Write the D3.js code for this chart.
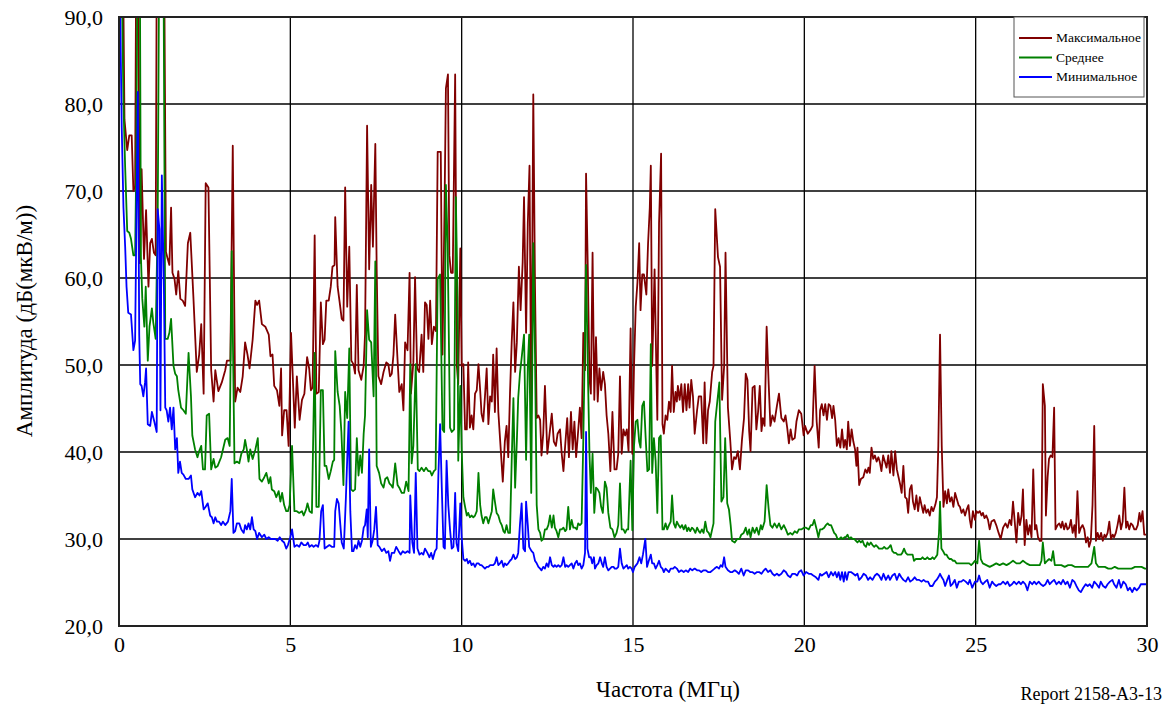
<!DOCTYPE html>
<html><head><meta charset="utf-8">
<script src="https://cdn.jsdelivr.net/npm/d3@7"></script>
<style>
body{margin:0;background:#fff;}
svg{display:block;}
svg text{font-family:"Liberation Serif","Times New Roman",serif;}
</style></head>
<body><svg id="c" width="1169" height="704"></svg>
<script>
// ---- data ----
const xTicks = [0,5,10,15,20,25,30];
const yTicks = [20,30,40,50,60,70,80,90];
const seriesNames = ["Максимальное","Среднее","Минимальное"];
const seriesColors = ["#800000","#008000","#0000ff"];
const xTitle = "Частота (МГц)";
const yTitle = "Амплитуда (дБ(мкВ/м))";
const reportLabel = "Report 2158-A3-13";

const maxSeries = [[0.00,95],[0.12,95],[0.16,78.2],[0.24,74.7],[0.30,76.4],[0.37,76.4],[0.42,70],[0.47,70.5],[0.50,95],[0.56,95],[0.61,61.7],[0.66,72.5],[0.73,62.2],[0.79,67.8],[0.86,59],[0.91,64],[0.96,64.5],[1.02,62.9],[1.07,62.6],[1.10,95],[1.32,95],[1.37,63],[1.42,62.2],[1.47,61.5],[1.52,68.1],[1.56,60.6],[1.62,59.9],[1.67,58.1],[1.73,60.8],[1.79,57.6],[1.86,57.4],[1.93,56.8],[2.01,64],[2.08,65.2],[2.17,57.9],[2.27,49.2],[2.34,51.2],[2.40,54.7],[2.47,46.7],[2.53,70.9],[2.61,70.4],[2.69,49.4],[2.76,45.8],[2.81,49.4],[2.90,47],[3.00,48],[3.10,49.4],[3.15,50.5],[3.25,50.5],[3.32,75.2],[3.39,45.8],[3.46,47.4],[3.54,46.9],[3.61,48.7],[3.68,52.6],[3.75,51.2],[3.81,49.6],[3.90,52.9],[3.98,57.4],[4.03,56.9],[4.09,57.4],[4.17,54.7],[4.27,54.4],[4.37,53.5],[4.42,51],[4.48,51.2],[4.53,47.6],[4.61,47.1],[4.68,45.3],[4.73,49.6],[4.76,41.9],[4.82,44.8],[4.89,44.8],[4.95,40.7],[5.02,53.7],
[5.13,42.8],[5.19,48.7],[5.27,43.7],[5.34,46],[5.41,46.7],[5.49,50.9],[5.55,49.6],[5.60,47.1],[5.65,47.4],[5.71,64.9],[5.76,46.7],[5.83,46.9],[5.89,57.2],[5.95,52.4],[6.00,52.9],[6.05,57.4],[6.12,57.4],[6.18,59],[6.23,61.3],[6.29,61.5],[6.31,67],[6.38,59],[6.44,57.2],[6.50,55.3],[6.55,55.1],[6.60,70.4],[6.66,56.7],[6.72,63.6],[6.78,50.5],[6.84,50.1],[6.89,49],[6.94,59.2],[6.99,49.4],[7.07,48.3],[7.14,49.9],[7.18,53.5],[7.24,77.5],[7.30,61],[7.36,70.7],[7.41,63.6],[7.48,75.4],[7.52,61],[7.57,48.7],[7.65,47.8],[7.72,49.2],[7.80,50.3],[7.86,50.1],[7.91,48.7],[7.96,49],[8.01,51.2],[8.06,55.8],[8.13,50.5],[8.18,46.9],[8.25,47.8],[8.30,44.8],[8.35,52.6],[8.42,51.7],[8.48,60.6],[8.52,46.7],[8.59,50.3],[8.64,60.1],[8.70,49.6],[8.76,49.2],[8.83,53.5],[8.88,49.2],[8.93,57.2],[8.98,56.9],[9.03,53],[9.08,57.4],[9.13,52.4],[9.19,54.4],[9.25,53.9],[9.30,74.5],[9.39,74.5],[9.44,51.2],[9.50,68.1],[9.54,81.8],[9.60,83.4],[9.64,62.6],[9.69,60.6],[9.74,60.6],[9.81,83.4],[9.86,49.9],[9.90,47.8],[9.96,63.4],[10.00,49.9],
[10.05,50.1],[10.10,42.6],[10.15,42.6],[10.19,50.3],[10.24,42.8],[10.29,44.2],[10.34,42.6],[10.39,46.7],[10.44,47.1],[10.49,50.1],[10.54,47.1],[10.58,44.4],[10.63,43.5],[10.68,46.4],[10.73,49.6],[10.78,43.2],[10.83,46.4],[10.88,45.8],[10.92,51.2],[10.97,44.6],[11.02,51.9],[11.07,44.6],[11.14,40.3],[11.20,36.6],[11.26,41.2],[11.31,43],[11.36,39.4],[11.41,46.7],[11.46,52.6],[11.51,57.2],[11.56,49.2],[11.61,52.6],[11.67,61.3],[11.72,56.3],[11.78,61.8],[11.82,69.3],[11.88,53.7],[11.93,66.3],[11.98,72.9],[12.03,44.4],[12.09,81.1],[12.14,59],[12.19,43.9],[12.24,44.2],[12.29,43.7],[12.33,39.6],[12.38,42.1],[12.43,47.6],[12.50,39.8],[12.56,41.9],[12.63,44.4],[12.69,41.2],[12.75,40.7],[12.80,42.1],[12.87,42.6],[12.92,39.8],[12.97,37.8],[13.02,40.7],[13.08,43.9],[13.13,39.4],[13.19,44.6],[13.24,40.3],[13.29,43.5],[13.34,39.4],[13.39,41.9],[13.45,45.1],[13.50,41.6],[13.55,53.7],[13.60,49.4],[13.63,72],[13.68,61.3],[13.73,48.5],[13.77,46.7],[13.82,62.9],[13.87,46],[13.92,53.2],[13.97,45.8],[14.02,49.6],[14.07,47.1],[14.13,49.2],[14.18,47.8],[14.23,44.2],[14.28,42.1],[14.34,37.8],[14.40,44.6],[14.46,38],[14.52,38],[14.57,39.8],[14.62,48.7],[14.67,39.8],[14.72,42.6],[14.77,41.9],[14.82,42.6],[14.87,40.1],[14.93,54.2],[14.98,39.8],
[15.03,49.9],[15.08,56.7],[15.13,59.5],[15.18,64],[15.22,56.3],[15.27,60.4],[15.32,60.4],[15.39,58.1],[15.44,64],[15.49,68.1],[15.52,72.9],[15.56,49.9],[15.63,61],[15.68,49.9],[15.71,43.7],[15.76,66.3],[15.82,74.3],[15.86,43.2],[15.90,42.1],[15.95,44.2],[16.00,43.7],[16.05,45.8],[16.10,44.6],[16.14,49.9],[16.19,44.6],[16.24,46.9],[16.28,45.8],[16.31,47.6],[16.36,46],[16.41,47.8],[16.46,44.6],[16.51,47.8],[16.56,44.8],[16.61,47.8],[16.65,45.1],[16.70,48.3],[16.75,46.4],[16.80,42.1],[16.87,44.8],[16.92,46.4],[16.99,46.4],[17.05,41],[17.09,48],[17.14,41],[17.19,44.8],[17.24,45.8],[17.31,49.2],[17.35,49.9],[17.40,67.9],[17.48,62.4],[17.54,61.3],[17.60,46],[17.66,49.9],[17.70,62.9],[17.77,45.1],[17.84,41.2],[17.89,38],[17.95,39.4],[18.00,39.2],[18.06,40.1],[18.12,38],[18.18,41.4],[18.24,43.9],[18.29,49],[18.34,48.3],[18.39,42.4],[18.43,40.1],[18.49,47.4],[18.55,47.6],[18.60,42.6],[18.65,44.6],[18.70,47.6],[18.75,42.4],[18.79,43.9],[18.84,43],[18.90,54.4],[18.96,47.8],[19.01,43],[19.07,44.2],[19.13,43.5],[19.20,45.3],[19.26,46.7],[19.33,43.9],[19.40,43.5],[19.45,44.2],[19.50,42.8],[19.55,41],[19.60,42.6],[19.65,41.4],[19.72,41.6],[19.77,43.5],[19.84,44.8],[19.91,44.4],[19.98,41.9],
[20.02,43],[20.10,42.1],[20.19,42.6],[20.24,43],[20.30,49.9],[20.36,43.5],[20.42,40.5],[20.46,44.8],[20.51,45.5],[20.56,44.2],[20.61,45.5],[20.66,43.7],[20.71,45.5],[20.76,45.3],[20.81,43.9],[20.85,45.3],[20.90,43.7],[20.95,40.7],[21.00,41.6],[21.05,40.5],[21.10,42.6],[21.15,40.5],[21.19,41.4],[21.24,40.3],[21.28,43.5],[21.33,40.7],[21.38,42.6],[21.43,41.2],[21.48,40.3],[21.52,38.4],[21.55,40.5],[21.60,36.2],[21.65,36.9],[21.72,37.1],[21.78,38],[21.83,37.6],[21.87,38.2],[21.91,37.6],[21.96,40.5],[22.01,39.2],[22.06,39.6],[22.11,38.9],[22.16,39.4],[22.20,38.9],[22.25,37.8],[22.30,39.6],[22.35,38.9],[22.40,38.2],[22.45,39.6],[22.50,37.6],[22.54,40.1],[22.60,37.3],[22.65,40.1],[22.70,38],[22.75,37.1],[22.80,36.2],[22.84,35.3],[22.89,38.4],[22.94,34.8],[22.99,34.6],[23.03,33],[23.08,35.7],[23.13,36.2],[23.17,34.3],[23.22,33.4],[23.27,35],[23.32,33.2],[23.37,34.8],[23.42,33.9],[23.47,33],[23.51,33.9],[23.56,33],[23.61,33.4],[23.66,32.7],[23.71,33.7],[23.76,33.2],[23.82,33.9],[23.87,34.8],[23.91,40.7],[23.96,53.5],[24.01,40.7],[24.06,33.7],[24.11,35.5],[24.16,34.1],[24.20,35.7],[24.25,34.3],[24.30,34.8],[24.35,33.7],[24.40,35.3],[24.45,34.6],[24.50,33.9],[24.54,33.7],[24.59,33],[24.64,33.4],[24.69,32.7],[24.74,33.4],[24.79,33.9],[24.83,32.2],[24.87,31.3],[24.92,33.2],[24.98,32.2],
[25.02,33.2],[25.07,33],[25.12,33.2],[25.17,32.7],[25.21,33],[25.26,32.4],[25.31,32.7],[25.36,32.2],[25.41,31.1],[25.46,32],[25.54,32.2],[25.60,31.6],[25.67,30.7],[25.73,30],[25.80,31.3],[25.87,31.8],[25.93,31.3],[25.99,32.2],[26.04,31.6],[26.09,34.3],[26.14,32],[26.19,29.6],[26.24,33],[26.29,31.6],[26.34,32.7],[26.38,35.7],[26.43,29.3],[26.48,32.2],[26.53,30.5],[26.58,31.6],[26.63,30.2],[26.68,38],[26.73,31.1],[26.77,31.6],[26.82,30.2],[26.87,29.8],[26.92,29.8],[26.96,47.8],[27.02,45.3],[27.05,32.7],[27.10,37.1],[27.14,39.2],[27.19,39.6],[27.24,39.4],[27.29,45.1],[27.33,31.1],[27.39,31.6],[27.44,31.8],[27.49,31.3],[27.53,32],[27.58,31.1],[27.63,31.8],[27.68,31.1],[27.73,31.3],[27.78,32.2],[27.83,30.7],[27.88,31.6],[27.92,30.2],[27.97,35.5],[28.02,30.7],[28.07,31.3],[28.12,31.6],[28.17,31.1],[28.22,29.6],[28.27,30.2],[28.31,29.1],[28.36,29.8],[28.41,33.9],[28.46,43],[28.51,29.8],[28.56,30.7],[28.61,30],[28.66,30.7],[28.71,29.8],[28.76,30.5],[28.80,30.2],[28.85,30.7],[28.90,32],[28.95,30],[29.00,30.5],[29.04,30.2],[29.09,30.7],[29.14,31.6],[29.19,32.7],[29.24,31.1],[29.29,32],[29.34,35.9],[29.39,31.3],[29.43,32],[29.48,31.1],[29.53,31.8],[29.58,31.6],[29.63,31.1],[29.68,31.1],[29.73,31.6],[29.78,33],[29.82,32],[29.87,33.2],[29.92,30.5],[30.00,30.5]];

const avgSeries = [[0.03,95],[0.08,95],[0.13,80],[0.18,72.7],[0.24,65.4],[0.30,65.2],[0.35,64.5],[0.42,62.6],[0.47,62.6],[0.50,71.8],[0.54,95],[0.61,95],[0.64,62.4],[0.68,57.6],[0.74,54.4],[0.78,59],[0.84,50.5],[0.89,54.4],[0.96,56.5],[1.00,54.9],[1.07,53],[1.13,67.2],[1.17,95],[1.30,95],[1.35,53],[1.42,53],[1.47,53.7],[1.52,55.3],[1.59,49.9],[1.64,49],[1.69,48.7],[1.73,47.1],[1.81,45.1],[1.88,44.8],[1.95,44.4],[2.03,51.4],[2.10,46.4],[2.14,41.9],[2.22,40.3],[2.29,39.4],[2.34,40.1],[2.40,40.7],[2.45,38],[2.51,38],[2.56,44.2],[2.63,44.4],[2.69,38],[2.76,39.2],[2.81,38.2],[2.88,38.4],[2.98,39.4],[3.10,41.4],[3.17,41.6],[3.23,40.7],[3.29,63.1],[3.37,38.7],[3.44,38.9],[3.51,38.7],[3.57,39.8],[3.64,40.3],[3.68,41.4],[3.73,40.3],[3.78,38.9],[3.83,40.3],[3.90,39.2],[3.98,40.3],[4.05,41.6],[4.10,36.9],[4.17,36.6],[4.24,37.1],[4.30,37.6],[4.37,36.4],[4.42,37.1],[4.46,35.7],[4.53,35.5],[4.59,34.8],[4.66,35.5],[4.71,34.3],[4.76,35.3],[4.82,33.9],[4.88,33.2],[4.93,33.2],[4.98,33.9],[5.05,40.7],[5.12,33.2],
[5.19,33.2],[5.26,33],[5.34,33.2],[5.39,32.7],[5.46,33.4],[5.50,34.1],[5.56,33.2],[5.63,33],[5.71,51.4],[5.76,33.7],[5.83,33.7],[5.89,47.1],[5.95,47.1],[6.00,38.4],[6.05,38.4],[6.12,36.9],[6.18,37.8],[6.24,38.9],[6.28,39.1],[6.31,51.6],[6.38,46.9],[6.44,45.3],[6.49,42.3],[6.55,36.2],[6.60,46.9],[6.66,43.9],[6.72,51.9],[6.77,35.7],[6.83,35.5],[6.89,35.7],[6.94,41.6],[6.99,37.3],[7.04,39.6],[7.09,37.6],[7.14,42.1],[7.18,44.2],[7.24,56.3],[7.30,52.9],[7.36,52.6],[7.43,46.4],[7.48,61.9],[7.52,38.4],[7.59,37.6],[7.65,36.4],[7.72,35.9],[7.77,36.9],[7.83,37.1],[7.89,36.4],[7.94,36.2],[7.99,35.9],[8.06,38.7],[8.13,36.2],[8.18,35.9],[8.25,35.3],[8.32,35.3],[8.38,36.6],[8.45,35.5],[8.50,50.1],[8.54,38.7],[8.59,40.7],[8.66,50.1],[8.72,38],[8.77,37.8],[8.83,38.2],[8.90,37.8],[8.96,38.2],[9.03,37.8],[9.08,37.8],[9.13,37.3],[9.19,37.8],[9.24,38],[9.30,59.9],[9.37,60.4],[9.44,42.6],[9.49,42.3],[9.54,70.7],[9.59,64],[9.66,42.8],[9.71,42.3],[9.78,42.6],[9.83,69.3],[9.88,57.6],[9.90,39],[9.96,47.6],[10.00,40.3],
[10.05,34.8],[10.10,33.7],[10.15,32.7],[10.19,33],[10.24,32.5],[10.29,32.7],[10.34,32.5],[10.39,32.7],[10.44,33.2],[10.49,37.6],[10.54,33.9],[10.58,32.7],[10.63,31.8],[10.68,32.5],[10.73,32.5],[10.78,31.8],[10.83,32.5],[10.88,33.2],[10.92,35.7],[10.97,34.3],[11.02,33],[11.07,32.7],[11.12,32],[11.17,31.6],[11.22,30.9],[11.26,30.7],[11.31,31.6],[11.36,30.7],[11.41,30.7],[11.46,39],[11.51,46.2],[11.56,35.9],[11.61,41.2],[11.65,46.2],[11.70,49],[11.75,50.8],[11.82,53.5],[11.88,39.1],[11.93,49.9],[11.97,53.5],[12.03,35.3],[12.09,64],[12.14,51.2],[12.19,33.9],[12.24,31.1],[12.29,30.7],[12.33,29.8],[12.38,30],[12.43,31.1],[12.48,31.1],[12.53,31.6],[12.58,32.7],[12.63,31.3],[12.68,32.7],[12.72,31.3],[12.77,30.9],[12.82,30.2],[12.87,31.1],[12.92,31.1],[12.97,31.3],[13.02,30.9],[13.06,31.1],[13.11,33.7],[13.16,31.1],[13.21,32.2],[13.26,31.3],[13.31,31.3],[13.36,31.1],[13.40,31.8],[13.45,31.6],[13.50,31.8],[13.55,41.4],[13.60,53.7],[13.63,61.5],[13.68,49.9],[13.73,39.8],[13.77,35.3],[13.82,39.8],[13.87,33],[13.92,35.9],[13.97,35.7],[14.02,35.3],[14.07,33.7],[14.12,33],[14.18,36.6],[14.23,35.9],[14.28,33],[14.34,31.3],[14.40,31.1],[14.46,30.2],[14.52,30.7],[14.57,31.6],[14.62,36.4],[14.67,31.1],[14.72,31.1],[14.77,30.7],[14.82,31.1],[14.86,31.1],[14.93,39],[14.98,31],
[15.03,40.7],[15.08,43.5],[15.13,43.7],[15.18,41.2],[15.22,40.5],[15.27,45.3],[15.32,45.8],[15.37,41.6],[15.42,37.8],[15.47,38],[15.52,52.4],[15.56,37.6],[15.61,41.6],[15.66,39],[15.71,33],[15.76,41.6],[15.81,41.9],[15.86,31.1],[15.90,31.1],[15.95,31.8],[16.00,31.1],[16.05,31.6],[16.10,32],[16.14,35],[16.19,31.8],[16.24,31.3],[16.28,32],[16.33,31.6],[16.38,31.3],[16.43,31.6],[16.48,31.1],[16.53,31.6],[16.58,30.9],[16.62,31.3],[16.67,30.9],[16.72,31.3],[16.77,31.1],[16.82,30.7],[16.87,31.3],[16.92,30.9],[16.96,30.7],[17.01,31.1],[17.06,30.7],[17.11,32],[17.16,30.9],[17.21,30.7],[17.26,30.2],[17.31,31.1],[17.35,31.8],[17.40,43.5],[17.46,45.8],[17.52,48],[17.58,34.3],[17.64,34.8],[17.69,41.6],[17.75,34.1],[17.80,33.4],[17.85,31.6],[17.89,29.8],[17.97,29.6],[18.04,30],[18.11,30],[18.16,30.5],[18.23,30.7],[18.29,31.3],[18.34,30.5],[18.39,31.1],[18.43,30.2],[18.49,31.3],[18.55,30.7],[18.61,31.3],[18.67,30.5],[18.73,31.6],[18.77,31.1],[18.84,32],[18.90,36.2],[18.96,33.4],[19.01,31.6],[19.07,31.3],[19.13,31.8],[19.20,31.3],[19.26,31.8],[19.33,31.1],[19.40,31.6],[19.46,31.1],[19.52,30.5],[19.59,30.7],[19.65,30.5],[19.72,30.9],[19.79,30.7],[19.84,31.1],[19.91,31.1],[19.99,31.3],
[20.05,31.3],[20.13,31.1],[20.19,31.6],[20.24,31.6],[20.29,32.2],[20.36,31.1],[20.41,30.2],[20.46,31.1],[20.51,31.1],[20.58,31.3],[20.63,31.6],[20.68,31.8],[20.73,31.6],[20.78,31.6],[20.83,31.1],[20.87,30.7],[20.92,30.5],[20.97,30],[21.02,30],[21.07,30.2],[21.12,30],[21.17,30.2],[21.21,30.2],[21.26,30.5],[21.31,30],[21.36,30.2],[21.41,30],[21.46,30],[21.50,29.8],[21.55,29.6],[21.60,29.8],[21.65,29.6],[21.70,29.8],[21.75,29.3],[21.80,29.1],[21.84,29.6],[21.89,29.3],[21.94,29.6],[21.99,29.3],[22.04,29.1],[22.09,29.3],[22.14,29.1],[22.18,28.9],[22.23,28.9],[22.28,28.9],[22.33,29.1],[22.38,28.9],[22.43,28.9],[22.48,29.1],[22.52,29.3],[22.57,28.6],[22.62,28.4],[22.67,28.4],[22.72,28.2],[22.77,28.2],[22.82,28.2],[22.86,28.4],[22.91,28.9],[22.96,28.4],[23.01,28.2],[23.06,28.2],[23.11,28.2],[23.16,28.2],[23.20,27.5],[23.25,27.7],[23.30,27.7],[23.35,27.7],[23.40,27.7],[23.45,27.9],[23.50,27.7],[23.54,27.7],[23.59,27.9],[23.64,27.7],[23.69,27.7],[23.74,27.9],[23.79,27.7],[23.83,27.9],[23.88,28.2],[23.93,30.7],[23.96,34.3],[24.00,28.9],[24.05,28.6],[24.10,28.2],[24.15,28.2],[24.19,27.9],[24.24,27.7],[24.29,27.7],[24.34,27.5],[24.39,27.5],[24.44,27.2],[24.51,27.2],[24.61,27.2],[24.71,27.2],[24.81,27.2],[24.87,27],[24.92,27.2],[24.98,27.5],
[25.05,27.2],[25.10,29.8],[25.15,27.7],[25.21,27.2],[25.31,27],[25.41,26.8],[25.51,27],[25.60,27.2],[25.70,27],[25.80,27.2],[25.90,27],[25.99,27.2],[26.09,27.5],[26.19,27.2],[26.29,27.2],[26.38,27.5],[26.48,27.2],[26.58,27],[26.68,27],[26.77,27],[26.87,27],[26.92,27.5],[26.96,29.6],[27.02,27.2],[27.09,27.5],[27.14,27.7],[27.21,27.5],[27.26,28.6],[27.31,27],[27.41,27],[27.50,27],[27.60,26.8],[27.70,27],[27.80,27],[27.89,26.8],[27.99,26.8],[28.09,26.8],[28.19,26.8],[28.28,26.8],[28.38,27.2],[28.46,29.1],[28.51,27.2],[28.58,26.8],[28.67,26.8],[28.77,26.8],[28.87,26.6],[28.97,26.6],[29.06,26.8],[29.16,26.6],[29.26,26.6],[29.36,26.6],[29.45,26.6],[29.55,26.6],[29.65,26.8],[29.75,26.8],[29.84,26.8],[29.94,26.6],[30.00,26.6]];

const minSeries = [[0.00,95],[0.02,95],[0.08,77.3],[0.13,68.1],[0.18,63.6],[0.22,59],[0.27,56],[0.35,55.8],[0.42,51.7],[0.47,52.8],[0.50,63.6],[0.55,81.4],[0.59,53.5],[0.62,47.8],[0.66,47.6],[0.71,46.4],[0.76,48],[0.79,49.6],[0.84,43.2],[0.91,43],[0.96,44.6],[1.03,43.5],[1.10,42.3],[1.13,67.9],[1.18,65.6],[1.21,44.8],[1.25,71.8],[1.31,59],[1.35,45.1],[1.39,44.8],[1.44,43.5],[1.49,45.1],[1.54,42.6],[1.59,45.1],[1.64,40.3],[1.69,41.6],[1.73,37.6],[1.78,38.9],[1.83,37.6],[1.88,37.4],[1.95,36.9],[2.03,36.9],[2.10,37.3],[2.14,35.7],[2.22,34.8],[2.29,35.3],[2.35,35],[2.40,35.5],[2.47,33.4],[2.53,33.7],[2.59,34.1],[2.66,32.7],[2.71,32.5],[2.76,31.8],[2.81,32.5],[2.86,32],[2.92,32],[2.98,31.6],[3.03,32],[3.10,31.6],[3.18,32],[3.25,33.2],[3.29,36.9],[3.34,30.7],[3.39,30.9],[3.44,31.8],[3.51,31.8],[3.57,31.1],[3.64,30.7],[3.68,31.6],[3.73,31.1],[3.78,31.8],[3.83,31.1],[3.88,32.5],[3.93,31.1],[3.98,30.9],[4.03,30],[4.09,30.7],[4.17,30.2],[4.24,30.5],[4.30,30],[4.37,30.2],[4.43,30],[4.49,30],[4.56,30],[4.63,29.8],[4.69,30.2],[4.76,29.8],[4.82,29.6],[4.88,28.9],[4.93,29.3],[5.00,30.2],[5.05,31.1],[5.12,29.1],
[5.19,29.3],[5.26,29.1],[5.32,29.6],[5.39,29.3],[5.46,29.3],[5.51,29.6],[5.56,29.1],[5.63,29.3],[5.68,29.1],[5.75,29.3],[5.81,29.1],[5.85,29.8],[5.90,33.2],[5.95,33.9],[6.00,28.9],[6.07,29.1],[6.14,29.3],[6.21,29.1],[6.28,29.1],[6.31,33.2],[6.36,34.6],[6.41,34.1],[6.46,31.6],[6.50,29.6],[6.56,28.9],[6.62,34.6],[6.66,39.2],[6.70,43.5],[6.75,33.2],[6.80,28.6],[6.84,28.6],[6.89,29.3],[6.94,28.9],[6.99,29.8],[7.04,29.1],[7.09,29.8],[7.14,31.3],[7.18,31.6],[7.23,33.4],[7.26,30.2],[7.30,40.3],[7.35,29.1],[7.40,29.8],[7.45,31.1],[7.50,33.7],[7.55,29.3],[7.60,29.1],[7.67,28.6],[7.74,28.9],[7.80,28.4],[7.86,28.6],[7.91,27.5],[7.96,28.4],[8.03,28.4],[8.09,29.1],[8.16,28.6],[8.22,28.2],[8.28,28.6],[8.35,28.4],[8.42,28.6],[8.48,28.4],[8.50,35],[8.56,29.6],[8.61,28.4],[8.66,37.6],[8.71,28.9],[8.77,28.2],[8.83,28.4],[8.88,28.2],[8.93,28.9],[9.00,28.4],[9.06,27.9],[9.11,28.4],[9.16,27.7],[9.22,28.6],[9.27,28.9],[9.32,37.3],[9.37,43.2],[9.42,35.9],[9.47,29.1],[9.51,28.9],[9.56,39],[9.61,33.9],[9.66,31.1],[9.71,28.9],[9.76,29.1],[9.81,35.3],[9.85,29.5],[9.90,28.6],[9.96,34.1],[10.00,30.2],
[10.05,27.7],[10.10,27.5],[10.15,27.7],[10.19,27.2],[10.24,27.5],[10.29,27],[10.34,27.2],[10.39,26.8],[10.44,27.2],[10.49,27.2],[10.54,27],[10.58,27],[10.63,26.8],[10.68,26.6],[10.73,26.8],[10.78,26.8],[10.83,27],[10.88,27],[10.92,27],[10.97,27.2],[11.02,27.9],[11.07,27],[11.12,27.2],[11.17,27.5],[11.22,26.8],[11.26,27.2],[11.31,27],[11.36,27.2],[11.41,27.5],[11.46,27.7],[11.51,28.2],[11.56,27.7],[11.61,27.9],[11.65,28.4],[11.70,31.6],[11.75,34.1],[11.80,28.9],[11.85,28.6],[11.88,34.3],[11.93,31.6],[11.97,29.1],[12.04,28.6],[12.09,28.4],[12.14,27.5],[12.19,27.2],[12.24,26.8],[12.29,26.6],[12.33,26.4],[12.38,26.8],[12.43,26.6],[12.48,27.2],[12.53,26.8],[12.58,27.9],[12.63,27],[12.68,26.8],[12.72,27],[12.77,26.8],[12.82,27],[12.87,26.8],[12.92,27],[12.97,27.9],[13.02,26.8],[13.06,27],[13.11,26.8],[13.16,27],[13.21,27.2],[13.26,26.6],[13.31,27.2],[13.36,27.5],[13.40,27],[13.45,27.2],[13.50,26.6],[13.55,27],[13.60,28.4],[13.63,42.3],[13.67,28.9],[13.72,27.9],[13.77,27.9],[13.81,27.2],[13.86,27.9],[13.89,26.6],[13.94,27],[13.99,27.2],[14.04,27.9],[14.09,27.2],[14.13,26.8],[14.18,27.9],[14.23,26.8],[14.28,26.4],[14.33,26.6],[14.38,26.8],[14.43,26.8],[14.47,26.6],[14.52,26.6],[14.57,26.8],[14.62,28.9],[14.67,27.2],[14.72,26.6],[14.77,26.8],[14.82,27],[14.86,26.6],[14.91,26.8],[14.96,26.6],
[15.00,26.2],[15.05,26.8],[15.13,27.2],[15.19,27.9],[15.24,27.2],[15.29,28.2],[15.36,30],[15.41,26.8],[15.46,27.5],[15.52,28.2],[15.56,27.2],[15.61,27.2],[15.66,26.6],[15.71,27],[15.76,27.5],[15.81,26.8],[15.86,26.6],[15.90,26.2],[15.95,26.6],[16.00,26.4],[16.05,26.2],[16.10,26.6],[16.17,26.6],[16.22,26.8],[16.28,26.6],[16.34,26.2],[16.41,26.4],[16.48,26.2],[16.54,26.4],[16.61,26.2],[16.67,26.6],[16.73,26.4],[16.80,26.6],[16.87,26.4],[16.93,26.4],[16.99,26.2],[17.06,26.4],[17.12,26.4],[17.19,26.2],[17.26,26.2],[17.32,26.4],[17.38,26.6],[17.45,26.8],[17.51,26.6],[17.56,27],[17.61,26.8],[17.66,27.9],[17.70,26.8],[17.77,26.4],[17.84,26.2],[17.90,26.2],[17.97,26.4],[18.04,26.2],[18.09,26],[18.16,26.6],[18.23,25.8],[18.29,26.4],[18.36,26.4],[18.42,26.2],[18.48,26.2],[18.55,26],[18.62,26.2],[18.68,26.2],[18.75,26],[18.82,26.4],[18.87,26.6],[18.94,26.2],[19.01,26.4],[19.07,26],[19.13,25.8],[19.20,26],[19.26,25.8],[19.33,26],[19.40,26.4],[19.46,26.2],[19.52,25.8],[19.59,25.6],[19.65,26],[19.72,26],[19.79,25.8],[19.84,26.2],[19.91,26.4],[19.98,25.8],
[20.05,26.2],[20.13,26],[20.19,26],[20.26,25.8],[20.34,25.6],[20.41,25.3],[20.46,26],[20.51,25.8],[20.58,26],[20.65,26.2],[20.71,25.6],[20.78,26.2],[20.84,25.8],[20.90,26.2],[20.95,25.6],[21.00,26.2],[21.05,25.3],[21.10,26.2],[21.15,25.1],[21.19,26.2],[21.24,25.3],[21.29,26.2],[21.36,26.2],[21.43,26],[21.49,25.8],[21.55,26],[21.60,25.3],[21.67,25.6],[21.73,26],[21.80,25.8],[21.86,25.3],[21.92,25.6],[21.99,25.3],[22.06,25.8],[22.12,26],[22.18,25.8],[22.25,25.3],[22.31,26],[22.38,25.3],[22.45,25.8],[22.50,25.3],[22.57,25.8],[22.64,26],[22.70,25.3],[22.77,26],[22.83,25.6],[22.89,25.3],[22.96,25.1],[23.03,25.6],[23.09,25.1],[23.16,25.3],[23.22,25.6],[23.28,25.3],[23.35,25.3],[23.42,25.1],[23.48,25.3],[23.54,25.1],[23.61,25.1],[23.67,24.6],[23.74,24.6],[23.81,25.1],[23.86,25.3],[23.91,25.6],[23.96,26],[24.01,25.6],[24.06,25.3],[24.11,24.6],[24.17,25.3],[24.22,25.8],[24.27,24.6],[24.32,24.8],[24.39,25.3],[24.45,24.4],[24.51,25.1],[24.58,25.1],[24.64,25.3],[24.71,25.1],[24.78,24.8],[24.83,25.3],[24.90,24.4],[24.98,25.1],
[25.05,25.1],[25.10,25.8],[25.15,25.1],[25.21,24.8],[25.28,25.1],[25.34,25.3],[25.41,24.4],[25.48,25.1],[25.54,24.8],[25.60,24.6],[25.67,24.8],[25.73,24.8],[25.80,25.1],[25.87,24.8],[25.93,25.1],[25.99,24.6],[26.06,24.8],[26.12,25.1],[26.19,24.8],[26.26,25.1],[26.32,24.8],[26.38,25.1],[26.45,24.8],[26.51,24.1],[26.58,25.1],[26.65,24.8],[26.71,25.1],[26.77,24.8],[26.84,25.1],[26.90,24.8],[26.97,24.6],[27.04,24.8],[27.10,25.3],[27.16,24.8],[27.23,25.1],[27.29,25.3],[27.36,24.8],[27.43,25.1],[27.49,24.8],[27.55,25.3],[27.62,24.8],[27.68,25.1],[27.75,24.4],[27.82,25.3],[27.88,25.1],[27.94,24.6],[28.01,24.1],[28.07,23.9],[28.14,24.4],[28.21,24.8],[28.27,24.6],[28.33,24.8],[28.40,24.4],[28.46,25.1],[28.53,24.8],[28.60,24.4],[28.65,25.1],[28.72,24.6],[28.79,24.4],[28.85,24.8],[28.92,25.1],[28.99,25.3],[29.04,24.8],[29.11,24.4],[29.18,25.3],[29.24,24.4],[29.31,25.1],[29.38,24.8],[29.44,24.1],[29.50,24.4],[29.57,23.9],[29.63,24.4],[29.70,24.1],[29.77,24.4],[29.82,24.8],[29.89,24.8],[30.00,24.8]];

// ---- drawing ----
const FONT = "Liberation Serif, Times New Roman, serif";
const svg = d3.select("#c");
const plot = {left:119, right:1147, top:17, bottom:626};
const x = d3.scaleLinear().domain([0,30]).range([plot.left, plot.right]);
const y = d3.scaleLinear().domain([20,90]).range([plot.bottom, plot.top]);

svg.append("rect").attr("width",1169).attr("height",704).attr("fill","#fff");

svg.append("defs").append("clipPath").attr("id","clip")
  .append("rect").attr("x",plot.left).attr("y",plot.top)
  .attr("width",plot.right-plot.left).attr("height",plot.bottom-plot.top);

// grid
const grid = svg.append("g");
grid.selectAll("line.v").data(xTicks.slice(1,-1)).join("line")
  .attr("x1",d=>x(d)).attr("x2",d=>x(d)).attr("y1",plot.top).attr("y2",plot.bottom)
  .attr("stroke","#000").attr("stroke-width",1.3);
grid.selectAll("line.h").data(yTicks.slice(1,-1)).join("line")
  .attr("x1",plot.left).attr("x2",plot.right).attr("y1",d=>y(d)).attr("y2",d=>y(d))
  .attr("stroke","#000").attr("stroke-width",1.3);

// series
const line = d3.line().x(d=>x(d[0])).y(d=>y(d[1]));
const lines = svg.append("g").attr("clip-path","url(#clip)");
[[maxSeries,0],[avgSeries,1],[minSeries,2]].forEach(([data,i])=>{
  lines.append("path").datum(data).attr("d",line)
    .attr("fill","none").attr("stroke",seriesColors[i]).attr("stroke-width",1.8)
    .attr("stroke-linejoin","round");
});

// frame
svg.append("rect").attr("x",plot.left).attr("y",plot.top)
  .attr("width",plot.right-plot.left).attr("height",plot.bottom-plot.top)
  .attr("fill","none").attr("stroke","#222").attr("stroke-width",2);

// axes (labels only)
const fmtY = d => d3.format(".1f")(d).replace(".",",");
const yAxis = svg.append("g").attr("transform",`translate(${plot.left},0)`)
  .call(d3.axisLeft(y).tickValues(yTicks).tickSize(0).tickPadding(16).tickFormat(fmtY));
yAxis.attr("font-family",FONT);
yAxis.select(".domain").remove();
yAxis.selectAll("text").attr("font-size",22).attr("fill","#000").attr("font-family",FONT);

const xAxis = svg.append("g").attr("transform",`translate(0,${plot.bottom})`)
  .call(d3.axisBottom(x).tickValues(xTicks).tickSize(0).tickPadding(10).tickFormat(d3.format("d")));
xAxis.attr("font-family",FONT);
xAxis.select(".domain").remove();
xAxis.selectAll("text").attr("font-size",22).attr("fill","#000").attr("font-family",FONT);

// titles
svg.append("text").attr("x",668).attr("y",697).attr("text-anchor","middle")
  .attr("font-family",FONT).attr("font-size",23).text(xTitle);
svg.append("text").attr("transform","translate(32,321) rotate(-90)")
  .attr("text-anchor","middle").attr("font-family",FONT).attr("font-size",23).text(yTitle);
svg.append("text").attr("x",1162).attr("y",700).attr("text-anchor","end")
  .attr("font-family",FONT).attr("font-size",18).text(reportLabel);

// legend
const lg = svg.append("g");
lg.append("rect").attr("x",1014).attr("y",plot.top).attr("width",130).attr("height",80)
  .attr("fill","#fff").attr("stroke","#555").attr("stroke-width",1);
seriesNames.forEach((name,i)=>{
  const yy = 38 + i*19.5;
  lg.append("line").attr("x1",1019).attr("x2",1052).attr("y1",yy).attr("y2",yy)
    .attr("stroke",seriesColors[i]).attr("stroke-width",1.8);
  lg.append("text").attr("x",1056).attr("y",yy+4).attr("font-family",FONT)
    .attr("font-size",13.5).text(name);
});
</script></body></html>
